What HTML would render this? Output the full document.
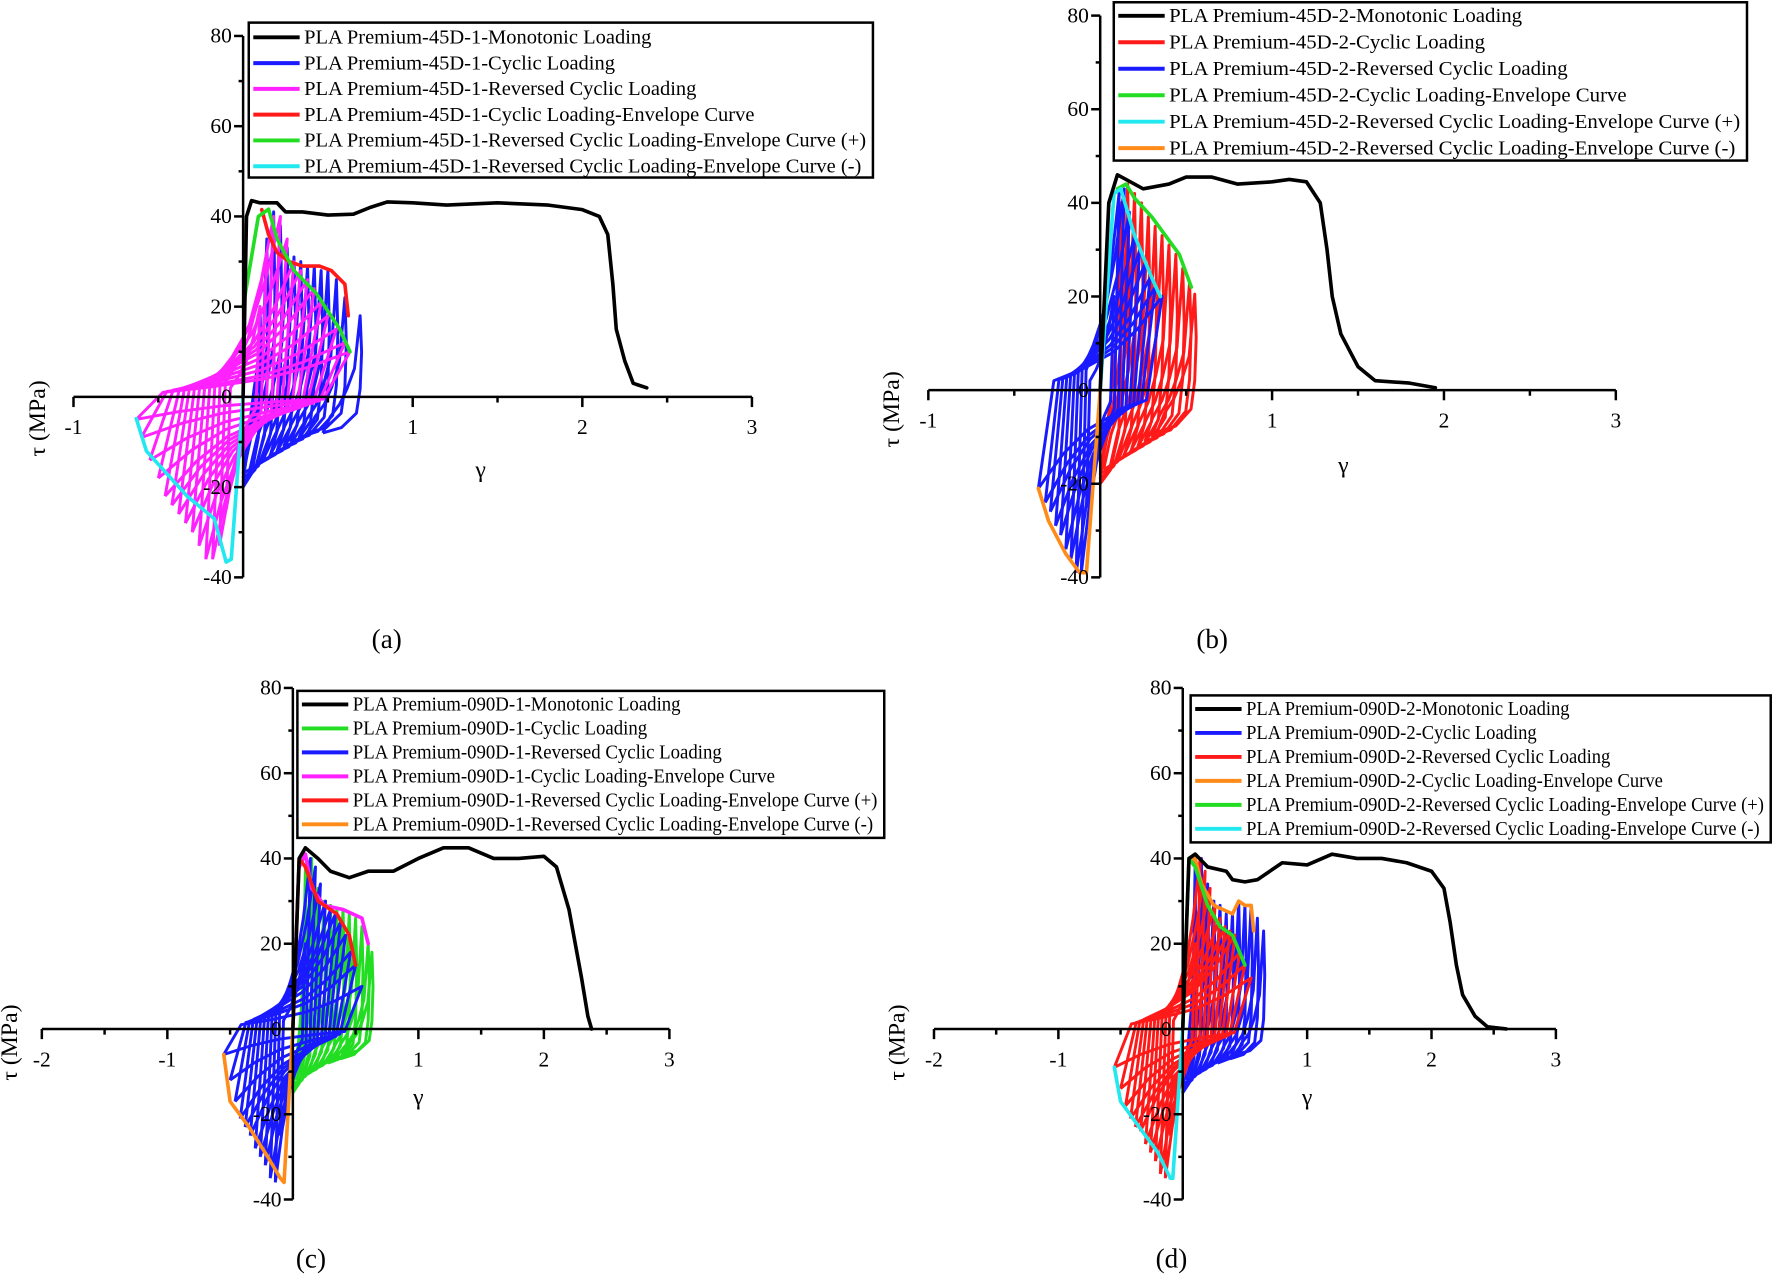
<!DOCTYPE html>
<html><head><meta charset="utf-8">
<style>
html,body{margin:0;padding:0;background:#fff;}
svg{display:block;font-family:"Liberation Serif",serif;}
</style></head>
<body>
<svg id="fig" width="1773" height="1280" viewBox="0 0 1568 1132" xmlns="http://www.w3.org/2000/svg"></svg>
<script>
// ---------- Panel (a) data ----------
const aMono=[[0,0],[0.02,40],[0.05,43.5],[0.1,43],[0.2,43],[0.25,41],[0.35,41],[0.5,40.3],[0.65,40.5],[0.75,42],[0.85,43.2],[1.0,43],[1.2,42.5],[1.5,43],[1.8,42.5],[2.0,41.5],[2.1,40],[2.15,36],[2.18,25],[2.2,15],[2.25,8],[2.3,3],[2.38,2]];
const aCycG=[0.1,0.14,0.18,0.22,0.26,0.3,0.34,0.38,0.42,0.46,0.5,0.55,0.6,0.69];
const aCycT=[20,35,41,38,33,31,30,29,29,28,28,26,22,18];
const aCycM=[-20,-19,-18,-17,-16,-15,-14,-13,-12,-11,-10,-9,-8,-8];
const aRevG=[0.1,0.14,0.18,0.22,0.26,0.3,0.34,0.38,0.42,0.46,0.5,0.55,0.6,0.63];
const aRevP=[20,32,40,40,35,30,28,26,24,21,18,15,12,10];
const aRevN=[-25,-33,-36,-36,-33,-30,-28,-26,-24,-22,-18,-14,-9,-5];
const aEnvC=[[0.11,41.5],[0.15,36],[0.2,32],[0.27,30],[0.35,29],[0.45,29],[0.52,28],[0.6,25],[0.62,18]];
const aEnvP=[[0,20],[0.09,40],[0.15,41.6],[0.2,35],[0.3,28],[0.43,23],[0.57,15],[0.63,10]];
const aEnvN=[[-0.63,-4.8],[-0.57,-12],[-0.33,-22],[-0.17,-27],[-0.1,-36.6],[-0.07,-36],[0,0]];
// ---------- Panel (b) data ----------
const bMono=[[0,0],[0.05,40],[0.1,46],[0.15,45],[0.25,43],[0.4,44],[0.5,45.5],[0.65,45.5],[0.8,44],[1.0,44.5],[1.1,45],[1.2,44.5],[1.28,40],[1.32,30],[1.35,20],[1.4,12],[1.5,5],[1.6,2],[1.8,1.5],[1.95,0.5]];
const bCycG=[0.12,0.16,0.2,0.24,0.28,0.32,0.36,0.4,0.44,0.48,0.52,0.55];
const bCycT=[40,44,42,40,37,35,33,31,29,26,23,20.5];
const bCycM=[-20,-19,-18,-17,-16,-15,-14,-13,-12,-11,-10,-9];
const bRevG=[0.08,0.11,0.14,0.17,0.2,0.23,0.26,0.29,0.32,0.36];
const bRevP=[20,42,43,38,33,30,27,24,22,20];
const bRevN=[-25,-39,-39,-36,-34,-31,-29,-26,-24,-21];
const bEnvC=[[0.1,43],[0.15,44],[0.2,41],[0.3,37],[0.4,32],[0.46,29],[0.53,22]];
const bEnvP=[[0,0],[0.08,42],[0.12,43],[0.2,33],[0.3,24],[0.35,20]];
const bEnvN=[[-0.36,-21],[-0.3,-28],[-0.2,-35],[-0.12,-39],[-0.08,-39],[0,0]];
// ---------- Panel (c) data ----------
const cMono=[[0,0],[0.05,40],[0.1,42.5],[0.2,40],[0.3,37],[0.45,35.5],[0.6,37],[0.8,37],[1.0,40],[1.2,42.5],[1.4,42.5],[1.6,40],[1.8,40],[2.0,40.5],[2.1,38],[2.2,28],[2.3,12],[2.35,3],[2.38,0]];
const cCycG=[0.1,0.15,0.2,0.25,0.3,0.35,0.4,0.45,0.5,0.55,0.6,0.63];
const cCycT=[38,40,33,30,29,28,28,27,26,24,20,18];
const cCycM=[-15,-14,-13,-12,-11,-10,-9,-8,-8,-7,-7,-6];
const cRevG=[0.1,0.14,0.18,0.22,0.26,0.3,0.34,0.38,0.42,0.46,0.5,0.55];
const cRevP=[20,40,38,34,30,28,27,25,22,18,15,10];
const cRevN=[-25,-36,-35,-32,-30,-28,-25,-23,-21,-17,-12,-6];
const cEnvC=[[0.05,38],[0.1,41],[0.15,33],[0.25,29],[0.4,28],[0.55,26],[0.6,20]];
const cEnvP=[[0,0],[0.05,40],[0.1,38],[0.2,30],[0.35,27],[0.45,22],[0.5,15]];
const cEnvN=[[-0.55,-6],[-0.5,-17],[-0.35,-23],[-0.2,-30],[-0.1,-35],[-0.07,-36],[0,0]];
// ---------- Panel (d) data ----------
const dMono=[[0,0],[0.05,40],[0.1,41],[0.2,38],[0.35,37],[0.4,35],[0.5,34.5],[0.6,35],[0.8,39],[1.0,38.5],[1.2,41],[1.4,40],[1.6,40],[1.8,39],[2.0,37],[2.1,33],[2.15,25],[2.2,15],[2.25,8],[2.35,3],[2.45,0.5],[2.6,0]];
const dCycG=[0.1,0.15,0.2,0.25,0.3,0.35,0.4,0.45,0.5,0.55,0.6,0.65];
const dCycT=[39,40,34,30,29,27,27,30,29,29,26,23];
const dCycM=[-15,-14,-13,-12,-11,-10,-9,-8,-8,-7,-7,-6];
const dRevG=[0.1,0.14,0.18,0.22,0.26,0.3,0.34,0.38,0.42,0.46,0.5,0.55];
const dRevP=[20,40,37,33,29,26,24,23,22,18,15,12];
const dRevN=[-25,-35,-34,-31,-29,-27,-24,-23,-21,-18,-14,-9];
const dEnvC=[[0.05,39],[0.1,40],[0.15,34],[0.25,29],[0.4,27],[0.45,30],[0.5,29],[0.55,29],[0.57,23]];
const dEnvP=[[0,0],[0.05,40],[0.1,38],[0.2,29],[0.3,24],[0.4,22],[0.5,15]];
const dEnvN=[[-0.55,-9],[-0.5,-17],[-0.35,-23],[-0.2,-29],[-0.1,-35],[-0.08,-35],[0,0]];
// tick labels
const xTicksAB=[-1,0,1,2,3];
const xTicksCD=[-2,-1,0,1,2,3];
const yTicks=[-40,-20,0,20,40,60,80];

const NS="http://www.w3.org/2000/svg";
const svg=document.getElementById('fig');
function mk(tag,attrs,parent){const e=document.createElementNS(NS,tag);for(const k in attrs)e.setAttribute(k,attrs[k]);(parent||svg).appendChild(e);return e;}

const panels=[
 {id:'a',x0:215,y0:351,ux:150,uy:3.99,xmin:-1,xmax:3,xt:xTicksAB,mono:aMono,cg:aCycG,ct:aCycT,cm:aCycM,rg:aRevG,rp:aRevP,rn:aRevN,ec:aEnvC,ep:aEnvP,en:aEnvN,
  cols:['#000','#1a1aff','#ff22ff','#ff1a1a','#22dd22','#22e8f0'],order:['cyc','rev'],
  lg:{x:220,y:20,w:552,h:137,r0:33,dr:22.8},
  names:['PLA Premium-45D-1-Monotonic Loading','PLA Premium-45D-1-Cyclic Loading','PLA Premium-45D-1-Reversed Cyclic Loading','PLA Premium-45D-1-Cyclic Loading-Envelope Curve','PLA Premium-45D-1-Reversed Cyclic Loading-Envelope Curve (+)','PLA Premium-45D-1-Reversed Cyclic Loading-Envelope Curve (-)'],
  gx:425,gy:422,tx:40,ty:370,cap:'(a)',cx:342,cy:573},
 {id:'b',x0:973,y0:345,ux:152,uy:4.14,xmin:-1,xmax:3,xt:xTicksAB,mono:bMono,cg:bCycG,ct:bCycT,cm:bCycM,rg:bRevG,rp:bRevP,rn:bRevN,ec:bEnvC,ep:bEnvP,en:bEnvN,
  cols:['#000','#ff1a1a','#1a1aff','#22dd22','#22e8f0','#ff8c1a'],order:['cyc','rev'],
  lg:{x:985,y:2,w:560,h:140,r0:14,dr:23.4},
  names:['PLA Premium-45D-2-Monotonic Loading','PLA Premium-45D-2-Cyclic Loading','PLA Premium-45D-2-Reversed Cyclic Loading','PLA Premium-45D-2-Cyclic Loading-Envelope Curve','PLA Premium-45D-2-Reversed Cyclic Loading-Envelope Curve (+)','PLA Premium-45D-2-Reversed Cyclic Loading-Envelope Curve (-)'],
  gx:1188,gy:418,tx:795,ty:362,cap:'(b)',cx:1072,cy:573},
 {id:'c',x0:259,y0:910,ux:111,uy:3.77,xmin:-2,xmax:3,xt:xTicksCD,mono:cMono,cg:cCycG,ct:cCycT,cm:cCycM,rg:cRevG,rp:cRevP,rn:cRevN,ec:cEnvC,ep:cEnvP,en:cEnvN,
  cols:['#000','#22dd22','#1a1aff','#ff22ff','#ff1a1a','#ff8c1a'],order:['cyc','rev'],
  lg:{x:263,y:611,w:519,h:130,r0:623,dr:21.2},
  names:['PLA Premium-090D-1-Monotonic Loading','PLA Premium-090D-1-Cyclic Loading','PLA Premium-090D-1-Reversed Cyclic Loading','PLA Premium-090D-1-Cyclic Loading-Envelope Curve','PLA Premium-090D-1-Reversed Cyclic Loading-Envelope Curve (+)','PLA Premium-090D-1-Reversed Cyclic Loading-Envelope Curve (-)'],
  gx:370,gy:977,tx:15,ty:922,cap:'(c)',cx:275,cy:1121},
 {id:'d',x0:1046,y0:910,ux:110,uy:3.77,xmin:-2,xmax:3,xt:xTicksCD,mono:dMono,cg:dCycG,ct:dCycT,cm:dCycM,rg:dRevG,rp:dRevP,rn:dRevN,ec:dEnvC,ep:dEnvP,en:dEnvN,
  cols:['#000','#1a1aff','#ff1a1a','#ff8c1a','#22dd22','#22e8f0'],order:['cyc','rev'],
  lg:{x:1053,y:615,w:513,h:130,r0:627,dr:21.2},
  names:['PLA Premium-090D-2-Monotonic Loading','PLA Premium-090D-2-Cyclic Loading','PLA Premium-090D-2-Reversed Cyclic Loading','PLA Premium-090D-2-Cyclic Loading-Envelope Curve','PLA Premium-090D-2-Reversed Cyclic Loading-Envelope Curve (+)','PLA Premium-090D-2-Reversed Cyclic Loading-Envelope Curve (-)'],
  gx:1156,gy:977,tx:800,ty:922,cap:'(d)',cx:1036,cy:1121}
];

function pathOf(pts,sx,sy){return pts.map((p,i)=>(i?'L':'M')+sx(p[0]).toFixed(1)+','+sy(p[1]).toFixed(1)).join(' ');}

panels.forEach(P=>{
  const g=mk('g',{});
  
  
  const sx=v=>P.x0+v*P.ux, sy=v=>P.y0-v*P.uy;
  function line(pts,col,w,name){const e=mk('path',{d:pathOf(pts,sx,sy),fill:'none',stroke:col,'stroke-width':w,'stroke-linejoin':'round','stroke-linecap':'round'},g);
    
    return e;}
  function drawCyc(){
    const sg=mk('g',{},g);
    
    
    P.cg.forEach((gm,i)=>{
      const p=P.ct[i],m=P.cm[i],r=Math.max(0,gm-0.22),w=gm-r;
      const pts=[[r,m],[r+0.2*w,0.55*m],[r+0.45*w,0.2*m],[r+0.65*w,0.1*p],[r+0.85*w,0.35*p],[gm,p],[gm+0.04*w,0.55*p],[gm,0.1*p],[gm-0.1*w,0.45*m],[r+0.5*w,0.85*m],[r,m]];
      const e=mk('path',{d:pathOf(pts,sx,sy),fill:'none',stroke:P.cols[1],'stroke-width':2.6,'stroke-linejoin':'round'},sg);
      
      
    });
  }
  function drawRev(){
    const sg=mk('g',{},g);
    
    
    P.rg.forEach((gm,i)=>{
      const p=P.rp[i],n=P.rn[i];
      const pts=[[-gm,n],[-0.6*gm,0.65*n],[-0.2*gm,0.4*n],[0.3*gm,0.22*n],[0.75*gm,0.1*n],[gm,p],[0.6*gm,0.65*p],[0.2*gm,0.4*p],[-0.3*gm,0.22*p],[-0.75*gm,0.1*p],[-gm,n]];
      const e=mk('path',{d:pathOf(pts,sx,sy),fill:'none',stroke:P.cols[2],'stroke-width':2.6,'stroke-linejoin':'round'},sg);
      
      
    });
  }
  P.order.forEach(o=>o==='cyc'?drawCyc():drawRev());
  line(P.ec,P.cols[3],3.2,'cyclic-envelope-curve');
  line(P.ep,P.cols[4],3.2,'reversed-envelope-positive');
  line(P.en,P.cols[5],3.2,'reversed-envelope-negative');
  line(P.mono,P.cols[0],3.2,'monotonic-curve');
  const ax=mk('g',{stroke:'#000','stroke-width':2.2},g);
  
  
  mk('line',{x1:sx(P.xmin),x2:sx(P.xmax),y1:P.y0,y2:P.y0},ax);
  mk('line',{x1:P.x0,x2:P.x0,y1:sy(-40),y2:sy(80)},ax);
  for(let v=P.xmin;v<=P.xmax;v+=0.5){const maj=Number.isInteger(v);
    mk('line',{x1:sx(v),x2:sx(v),y1:P.y0,y2:P.y0+(maj?9:5)},ax);}
  for(let v=-40;v<=80;v+=10){const maj=v%20===0;
    mk('line',{x1:P.x0,x2:P.x0-(maj?8:4),y1:sy(v),y2:sy(v)},ax);}
  P.xt.forEach(v=>{if(v===0)return;const t=mk('text',{x:sx(v),y:P.y0+33,'font-size':19,'text-anchor':'middle'},g);t.textContent=v;
    
    });
  yTicks.forEach(v=>{const t=mk('text',{x:P.x0-10,y:sy(v)+6,'font-size':19,'text-anchor':'end'},g);t.textContent=v;
    
    });
  const gt=mk('text',{x:P.gx,y:P.gy,'font-size':21,'text-anchor':'middle'},g);gt.textContent='γ';
  
  
  const tt=mk('text',{x:P.tx,y:P.ty,'font-size':21,'text-anchor':'middle',transform:`rotate(-90 ${P.tx} ${P.ty})`},g);tt.textContent='τ (MPa)';
  
  
  const cp=mk('text',{x:P.cx,y:P.cy,'font-size':24,'text-anchor':'middle'},g);cp.textContent=P.cap;
  
  
  const L=P.lg;
  const lg=mk('g',{},g);
  
  
  mk('rect',{x:L.x,y:L.y,width:L.w,height:L.h,fill:'#fff',stroke:'#000','stroke-width':2.2},lg);
  const texts=[];
  P.names.forEach((n,i)=>{
    const y=L.r0+i*L.dr;
    const en=mk('g',{},lg);
    
    
    mk('line',{x1:L.x+4,x2:L.x+45,y1:y,y2:y,stroke:P.cols[i],'stroke-width':3.5},en);
    const t=mk('text',{x:L.x+49,y:y+5.5,'font-size':17.6},en);t.textContent=n;
    texts.push(t);
  });
  const lens=texts.map(t=>t.getComputedTextLength());
  const maxL=Math.max(...lens);
  const f=(L.w-55)/maxL;
  texts.forEach((t,i)=>{t.setAttribute('textLength',(lens[i]*f).toFixed(1));t.setAttribute('lengthAdjust','spacingAndGlyphs');});
});
</script>
</body></html>
